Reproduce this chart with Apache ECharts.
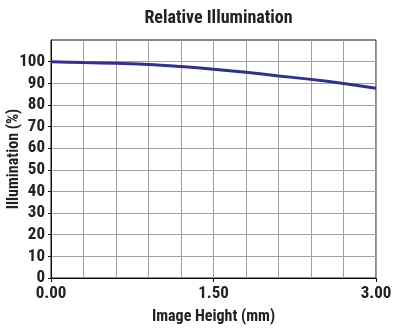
<!DOCTYPE html>
<html><head><meta charset="utf-8">
<script src="https://cdn.jsdelivr.net/npm/echarts@6/dist/echarts.min.js"></script>
<style>html,body{margin:0;padding:0;background:#fff}#c{width:394px;height:330px}</style>
</head><body><div id="c"></div>
<script>
var imageHeight = [0, 0.3, 0.6, 0.9, 1.2, 1.5, 1.8, 2.1, 2.4, 2.7, 3.0];
var illumination = [100, 99.6, 99.2, 98.7, 97.7, 96.5, 95.1, 93.4, 91.8, 89.9, 87.7];
var yTicks = [0, 10, 20, 30, 40, 50, 60, 70, 80, 90, 100];
var xTicks = [0, 1.5, 3.0];

var FONT = '"Roboto Condensed", "DejaVu Sans Condensed", sans-serif';
var chart = echarts.init(document.getElementById('c'), null, {renderer: 'canvas'});
chart.setOption({
  animation: false,
  title: {
    text: 'Relative Illumination', left: 213.5, top: 4, textAlign: 'center',
    textStyle: {fontFamily: FONT, fontWeight: 'bold', fontSize: 18, color: '#222'}
  },
  grid: {left: 51, right: 18, top: 40, bottom: 52, show: true, borderColor: '#111', borderWidth: 1,
    containLabel: false, outerBoundsMode: 'none'},
  xAxis: {
    type: 'value', min: 0, max: 3, interval: 1.5,
    name: 'Image Height (mm)', nameLocation: 'middle', nameGap: 31, nameMoveOverlap: false,
    nameTextStyle: {fontFamily: FONT, fontSize: 16, color: '#222', fontWeight: 'bold'},
    axisLine: {show: true, lineStyle: {color: '#111', width: 1}},
    axisTick: {show: true, length: 4, lineStyle: {color: '#111'}},
    axisLabel: {fontFamily: FONT, fontSize: 17, color: '#222', margin: 7, fontWeight: 'bold',
      formatter: function (v) { return v.toFixed(2); }, customValues: xTicks},
    splitLine: {show: true, lineStyle: {color: '#a0a0a0', width: 1}},
    minorTick: {show: false, splitNumber: 5},
    minorSplitLine: {show: true, lineStyle: {color: '#a0a0a0', width: 1}}
  },
  yAxis: {
    type: 'value', min: 0, max: 110, interval: 10,
    name: 'Illumination (%)', nameLocation: 'middle', nameGap: 29, nameMoveOverlap: false,
    nameTextStyle: {fontFamily: FONT, fontSize: 16, color: '#222', fontWeight: 'bold'},
    axisLine: {show: true, lineStyle: {color: '#111', width: 1}},
    axisTick: {show: true, length: 3, lineStyle: {color: '#111'}, customValues: yTicks},
    axisLabel: {fontFamily: FONT, fontSize: 17, color: '#222', margin: 6, fontWeight: 'bold', customValues: yTicks},
    splitLine: {show: true, lineStyle: {color: '#a0a0a0', width: 1}}
  },
  series: [{
    type: 'line', smooth: 0.3, symbol: 'none',
    data: imageHeight.map(function (x, i) { return [x, illumination[i]]; }),
    lineStyle: {color: '#2e3192', width: 3}
  }]
});
</script></body></html>
